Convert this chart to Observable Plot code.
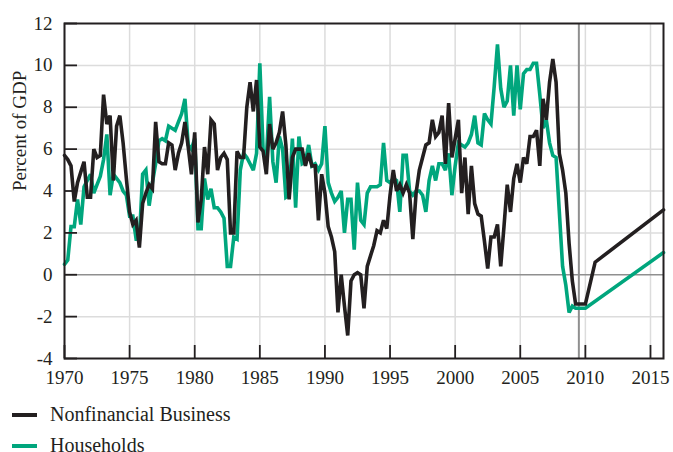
<!DOCTYPE html>
<html>
<head>
<meta charset="utf-8">
<script src="https://cdn.jsdelivr.net/npm/d3@7"></script>
<script src="https://cdn.jsdelivr.net/npm/@observablehq/plot@0.6"></script>
<style>
  html, body { margin: 0; padding: 0; background: #fff; }
  #chart { width: 673px; }
  .legend { font-family: "Liberation Serif", serif; font-size: 20px; color: #231f20; padding-top: 5px; }
  .legend .row { position: relative; height: 31px; line-height: 31px; }
  .legend .sw { position: absolute; left: 12px; top: 13px; width: 25px; height: 4px; }
  .legend .lab { position: absolute; left: 50px; top: -1px; }
</style>
</head>
<body>
<div id="chart"></div>
<script>
// Quarterly values, first quarter of 1970 through mid-2009 (percent of GDP)
const nfbQuarterly = [
  5.7, 5.5, 5.2, 3.5,   4.4, 4.9, 5.4, 3.7,   3.7, 6.0, 5.6, 5.7,   8.6, 7.2, 7.6, 4.5,
  7.1, 7.6, 6.3, 4.6,   3.0, 2.4, 2.6, 1.3,   3.4, 3.9, 4.3, 4.1,   7.3, 5.4, 5.3, 5.3,
  6.3, 6.2, 5.0, 5.8,   6.3, 7.3, 6.1, 4.8,   6.8, 2.5, 3.6, 6.1,   4.8, 7.4, 7.2, 5.0,
  5.6, 5.8, 5.5, 2.0,   2.0, 5.9, 5.6, 5.6,   8.0, 9.2, 7.8, 9.3,   6.1, 5.9, 4.8, 7.2,
  6.0, 6.3, 6.8, 7.8,   6.2, 3.6, 5.6, 6.0,   6.0, 6.0, 5.2, 5.8,   5.2, 5.2, 2.6, 4.8,
  3.9, 2.3, 1.8, 1.1,  -1.8, 0.0, -1.5, -2.9, -0.3, 0.0, 0.1, 0.0, -1.6, 0.4, 0.9, 1.4,
  2.1, 2.0, 2.6, 2.2,   3.8, 5.0, 4.0, 4.3,   3.9, 4.3, 3.9, 1.7,   3.9, 5.0, 5.6, 6.2,
  6.3, 7.4, 6.6, 6.8,   7.6, 5.3, 8.2, 5.6,   6.5, 7.4, 3.9, 5.6,   2.9, 5.2, 3.4, 2.9,
  2.8, 1.6, 0.3, 1.8,   1.8, 2.4, 0.4, 2.3,   4.3, 3.0, 4.6, 5.3,   4.4, 5.6, 5.3, 6.6,
  6.6, 6.9, 5.2, 8.4,   7.4, 9.2, 10.3, 9.2,  5.8, 5.0, 3.9, 1.5,  -0.3, -1.4, -1.4
];
const hhQuarterly = [
  0.5, 0.7, 2.3, 2.3,   3.6, 2.4, 4.2, 4.5,   4.8, 3.9, 4.3, 4.7,   5.5, 6.7, 3.8, 4.8,
  4.6, 4.4, 4.0, 3.8,   2.8, 2.8, 1.7, 1.7,   4.8, 5.0, 3.3, 4.4,   5.3, 6.4, 6.5, 6.4,
  7.1, 7.0, 6.9, 7.3,   7.7, 8.4, 6.2, 6.0,   6.5, 2.2, 2.2, 4.6,   3.6, 4.1, 3.2, 3.2,
  3.0, 2.7, 0.4, 0.4,   1.8, 1.7, 5.0, 5.8,   5.6, 5.3, 5.0, 5.8,  10.1, 6.0, 5.5, 8.5,
  5.4, 4.4, 6.6, 6.0,   3.7, 3.8, 6.5, 3.2,   6.6, 5.3, 5.4, 6.2,   5.2, 5.3, 5.0, 5.3,
  7.1, 4.4, 3.9, 3.5,   3.7, 4.0, 2.0, 3.6,   3.6, 1.2, 4.4, 2.6,   2.4, 3.9, 4.2, 4.2,
  4.2, 4.3, 6.3, 4.5,   4.4, 4.6, 4.5, 3.0,   5.7, 5.7, 4.0, 3.8,   4.0, 4.0, 3.8, 3.0,
  4.5, 5.2, 4.5, 5.3,   5.3, 5.0, 5.8, 3.8,   5.2, 6.3, 6.2, 6.1,   6.3, 6.7, 7.6, 6.3,
  6.2, 7.7, 7.4, 7.2,   9.0, 11.0, 8.9, 8.0,  8.3, 10.0, 7.6, 10.0, 7.9, 9.6, 9.8, 9.8,
 10.1, 10.1, 8.6, 7.0,  7.4, 6.3, 5.7, 5.6,   3.0, 0.4, -0.5, -1.8, -1.5, -1.6, -1.6
];
const firstYear = 1970;
// Projection segments after mid-2009
const nfbProjYears  = [2010.0, 2010.75, 2016.0];
const nfbProjValues = [-1.4, 0.6, 3.1];
const hhProjYears   = [2010.0, 2016.0];
const hhProjValues  = [-1.6, 1.06];

const seriesNames = ["Nonfinancial Business", "Households"];
const seriesColors = ["#231f20", "#00a67d"];
const xTickYears = [1970, 1975, 1980, 1985, 1990, 1995, 2000, 2005, 2010, 2015];
const yTickValues = [-4, -2, 0, 2, 4, 6, 8, 10, 12];
const yGridValues = [-2, 2, 4, 6, 8, 10];
const zeroLine = [0];
const recessionLine = [2009.5];

function buildSeries(name, quarterly, projYears, projValues) {
  const rows = quarterly.map((v, i) => ({series: name, year: firstYear + i / 4, value: v}));
  projYears.forEach((y, i) => rows.push({series: name, year: y, value: projValues[i]}));
  return rows;
}
const nfb = buildSeries(seriesNames[0], nfbQuarterly, nfbProjYears, nfbProjValues);
const hh = buildSeries(seriesNames[1], hhQuarterly, hhProjYears, hhProjValues);

const lineOpts = {x: "year", y: "value", strokeWidth: 3.6, strokeLinejoin: "miter", strokeMiterlimit: 3};
const plainFormat = d => String(d);

const plot = Plot.plot({
  width: 673,
  height: 395,
  marginLeft: 64,
  marginRight: 10,
  marginTop: 23,
  marginBottom: 37,
  x: {domain: [1970, 2016], label: null},
  y: {domain: [-4, 12], label: null},
  style: {fontFamily: "'Liberation Serif', serif", fontSize: "19px", color: "#231f20", background: "#fff"},
  marks: [
    Plot.gridX(xTickYears, {stroke: "#dcdcdc", strokeOpacity: 1, strokeWidth: 1.5}),
    Plot.gridY(yGridValues, {stroke: "#dcdcdc", strokeOpacity: 1, strokeWidth: 1.5}),
    Plot.ruleY(zeroLine, {stroke: "#8f8f8f", strokeWidth: 1.5}),
    Plot.ruleX(recessionLine, {stroke: "#8f8f8f", strokeWidth: 2}),
    Plot.line(hh, {...lineOpts, stroke: seriesColors[1]}),
    Plot.line(nfb, {...lineOpts, stroke: seriesColors[0]}),
    Plot.axisX(xTickYears, {tickSize: -13, text: null, stroke: "#231f20", strokeWidth: 1.8}),
    Plot.axisX(xTickYears, {tickSize: 0, tickPadding: 12, tickFormat: plainFormat, fontSize: 19, fill: "#231f20"}),
    Plot.axisY(yTickValues, {tickSize: -13, text: null, stroke: "#231f20", strokeWidth: 1.8}),
    Plot.axisY(yTickValues, {tickSize: 0, tickPadding: 12, tickFormat: plainFormat, fontSize: 19, fill: "#231f20"}),
    Plot.text(["Percent of GDP"], {frameAnchor: "left", rotate: -90, dx: -45, fontSize: 19, fill: "#231f20"}),
    Plot.frame({stroke: "#231f20", strokeWidth: 2})
  ]
});
document.getElementById("chart").appendChild(plot);

const legend = document.createElement("div");
legend.className = "legend";
seriesNames.forEach((name, i) => {
  const row = document.createElement("div");
  row.className = "row";
  const sw = document.createElement("span");
  sw.className = "sw";
  sw.style.background = seriesColors[i];
  const lab = document.createElement("span");
  lab.className = "lab";
  lab.textContent = name;
  row.appendChild(sw);
  row.appendChild(lab);
  legend.appendChild(row);
});
document.getElementById("chart").appendChild(legend);
</script>
</body>
</html>
